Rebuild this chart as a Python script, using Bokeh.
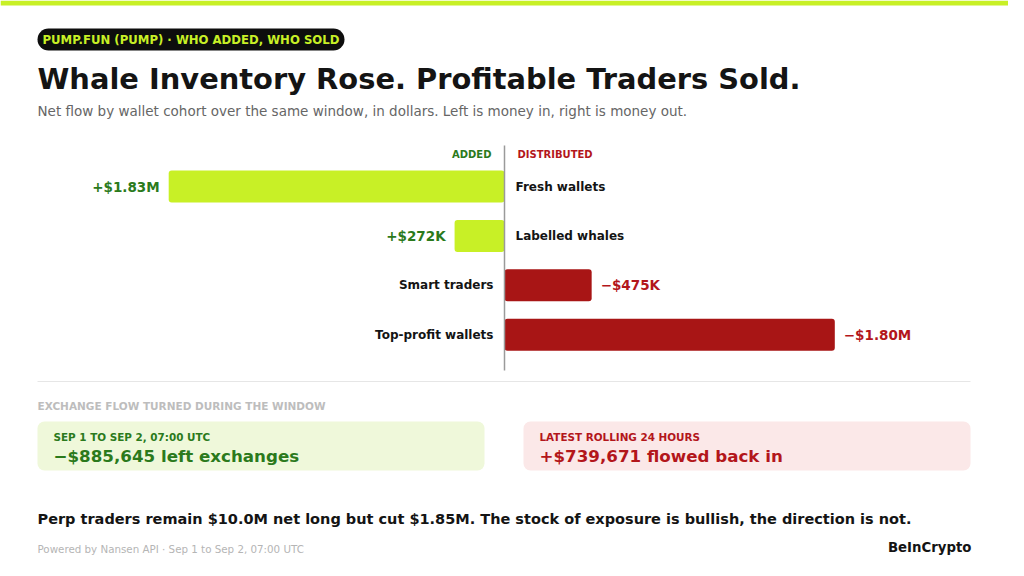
from bokeh.plotting import figure
from bokeh.models import Range1d, ColumnDataSource
from bokeh.core.properties import value
from bokeh.embed import file_html
from bokeh.resources import INLINE

# ---------------- data ----------------
cohorts = ["Fresh wallets", "Labelled whales", "Smart traders", "Top-profit wallets"]
net_flow_musd = [1.83, 0.272, -0.475, -1.80]   # + = added (money in), - = distributed
value_labels = ["+$1.83M", "+$272K", "\u2212$475K", "\u2212$1.80M"]

badge_text = "PUMP.FUN (PUMP) \u00b7 WHO ADDED, WHO SOLD"
title_text = "Whale Inventory Rose. Profitable Traders Sold."
subtitle_text = "Net flow by wallet cohort over the same window, in dollars. Left is money in, right is money out."
section_text = "EXCHANGE FLOW TURNED DURING THE WINDOW"
card_left_label = "SEP 1 TO SEP 2, 07:00 UTC"
card_left_value = "\u2212$885,645 left exchanges"
card_right_label = "LATEST ROLLING 24 HOURS"
card_right_value = "+$739,671 flowed back in"
footer_text = "Perp traders remain $10.0M net long but cut $1.85M. The stock of exposure is bullish, the direction is not."
source_text = "Powered by Nansen API \u00b7 Sep 1 to Sep 2, 07:00 UTC"
brand_text = "BeInCrypto"

# ---------------- styles ----------------
W, H = 1008, 560
FONT = value("DejaVu Sans")
LIME = "#c8f026"
GREEN = "#2b7a1c"
RED_T = "#b3161b"
RED_B = "#a81515"
INK = "#141414"

PX_PER_M = 183.5
ZERO_X = 504
x_left = ZERO_X / PX_PER_M
x_right = -(W - ZERO_X) / PX_PER_M

p = figure(width=W, height=H, output_backend="svg", toolbar_location=None,
           x_range=Range1d(x_left, x_right), y_range=Range1d(H, 0),
           min_border=0, outline_line_color=None, background_fill_color="white")
p.extra_x_ranges = {"px": Range1d(0, W)}
p.axis.visible = False
p.grid.visible = False

def T(x, y, text, size, color, style="bold", align="left", baseline="middle"):
    p.text(x=[x], y=[y], text=[text], x_range_name="px", text_font=FONT,
           text_font_size=f"{size}px", text_color=color, text_font_style=style,
           text_align=align, text_baseline=baseline)

def box(l, r, t, b, color, radius=0):
    p.quad(left=[l], right=[r], top=[t], bottom=[b], x_range_name="px",
           fill_color=color, line_color=None, border_radius=radius)

# top stripe
box(0, W, 0, 5, LIME)

# badge
box(37, 344, 28, 50, "#0d0d0d", 11)
T(42, 39.5, badge_text, 11.7, LIME)

# title + subtitle
T(37, 78, title_text, 28.9, INK)
T(37, 110, subtitle_text, 13.5, "#666666", style="normal")

# column headers
T(491, 154, "ADDED", 10, GREEN, align="right")
T(517, 154, "DISTRIBUTED", 10, RED_T)

# bars
n = len(cohorts)
bar_y = [186 + i * 49.4 for i in range(n)]
colors = [LIME if v > 0 else RED_B for v in net_flow_musd]
src = ColumnDataSource(dict(y=bar_y, v=net_flow_musd, c=colors))
p.hbar(y="y", left=0, right="v", height=32, fill_color="c", line_color=None,
       border_radius=3, source=src)

# zero line
p.segment(x0=[0], x1=[0], y0=[145], y1=[370], line_color="#9a9a9a", line_width=1.5)

pos = [i for i in range(n) if net_flow_musd[i] > 0]
neg = [i for i in range(n) if net_flow_musd[i] <= 0]

def sub(idx):
    return ColumnDataSource(dict(y=[bar_y[i] for i in idx], v=[net_flow_musd[i] for i in idx],
                                 lab=[value_labels[i] for i in idx], cat=[cohorts[i] for i in idx]))

sp, sn = sub(pos), sub(neg)
p.text(x="v", y="y", text="lab", source=sp, x_offset=-9, text_align="right", text_baseline="middle",
       text_font=FONT, text_font_size="13.5px", text_font_style="bold", text_color=GREEN)
p.text(x="v", y="y", text="lab", source=sn, x_offset=9, text_align="left", text_baseline="middle",
       text_font=FONT, text_font_size="13.5px", text_font_style="bold", text_color=RED_T)
p.text(x=0, y="y", text="cat", source=sp, x_offset=11, text_align="left", text_baseline="middle",
       text_font=FONT, text_font_size="12px", text_font_style="bold", text_color=INK)
p.text(x=0, y="y", text="cat", source=sn, x_offset=-11, text_align="right", text_baseline="middle",
       text_font=FONT, text_font_size="12px", text_font_style="bold", text_color=INK)

# separator
p.segment(x0=[37], x1=[970], y0=[381], y1=[381], x_range_name="px", line_color="#e6e6e6", line_width=1)

# section label
T(37, 405, section_text, 10.5, "#bdbdbd")

# cards
box(37, 484, 421, 470, "#eff8da", 7)
box(523, 970, 421, 470, "#fbe8e8", 7)
T(53, 436, card_left_label, 10.4, GREEN)
T(53, 455, card_left_value, 16.7, GREEN)
T(539, 436, card_right_label, 10.4, RED_T)
T(539, 455, card_right_value, 16.7, RED_T)

# footer
T(37, 518, footer_text, 14.5, INK)
T(37, 548, source_text, 10.3, "#b5b5b5", style="normal")
T(971, 547, brand_text, 13.3, INK, align="right")

open("out.html", "w").write(file_html(p, INLINE))
